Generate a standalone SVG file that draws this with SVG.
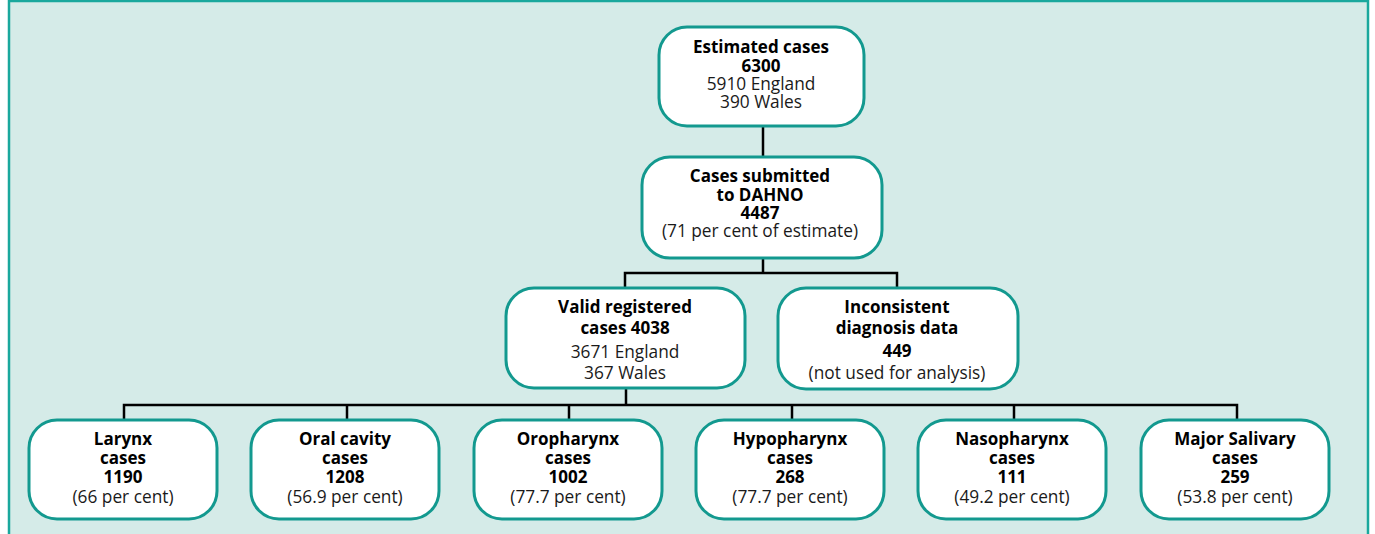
<svg xmlns="http://www.w3.org/2000/svg" width="1375" height="534" viewBox="0 0 1375 534">
<style>
.bg{fill:#d5ebe8;stroke:#1aa89d;stroke-width:2.5}
.box{fill:#ffffff;stroke:#13998f;stroke-width:3}
.c{fill:none;stroke:#000000;stroke-width:2.5}
text{font-family:"Open Sans","Noto Sans","Liberation Sans",sans-serif;font-size:17.3px;fill:#1a1a1a;text-anchor:middle}
.b{font-weight:bold;fill:#000000;font-size:17px}
</style>
<rect class="bg" x="9" y="1" width="1359" height="545"/>
<g id="connectors">
<path class="c" d="M763,126 V157"/>
<path class="c" d="M763,258 V273 M625,288 V273 H897 V288"/>
<path class="c" d="M626,388 V405 M124,420 V405 H1237 V420 M347,405 V420 M569,405 V420 M792,405 V420 M1014,405 V420"/>
</g>
<g id="estimated">
<rect class="box" x="659" y="27" width="205" height="99" rx="28"/>
<text x="761" y="53" class="b">Estimated cases</text>
<text x="761" y="72" class="b">6300</text>
<text x="761" y="90">5910 England</text>
<text x="761" y="108">390 Wales</text>
</g>
<g id="submitted">
<rect class="box" x="642" y="157" width="240" height="101" rx="28"/>
<text x="760" y="182" class="b">Cases submitted</text>
<text x="760" y="201" class="b">to DAHNO</text>
<text x="760" y="219" class="b">4487</text>
<text x="760" y="237">(71 per cent of estimate)</text>
</g>
<g id="valid">
<rect class="box" x="506" y="288" width="239" height="100" rx="28"/>
<text x="625" y="313" class="b">Valid registered</text>
<text x="625" y="334" class="b">cases 4038</text>
<text x="625" y="358">3671 England</text>
<text x="625" y="379">367 Wales</text>
</g>
<g id="inconsistent">
<rect class="box" x="778" y="288" width="240" height="101" rx="28"/>
<text x="897" y="313" class="b">Inconsistent</text>
<text x="897" y="334" class="b">diagnosis data</text>
<text x="897" y="357" class="b">449</text>
<text x="897" y="379">(not used for analysis)</text>
</g>
<g id="larynx">
<rect class="box" x="29" y="420" width="188" height="99" rx="28"/>
<text x="123" y="445" class="b">Larynx</text>
<text x="123" y="464" class="b">cases</text>
<text x="123" y="483" class="b">1190</text>
<text x="123" y="503">(66 per cent)</text>
</g>
<g id="oral">
<rect class="box" x="251" y="420" width="188" height="99" rx="28"/>
<text x="345" y="445" class="b">Oral cavity</text>
<text x="345" y="464" class="b">cases</text>
<text x="345" y="483" class="b">1208</text>
<text x="345" y="503">(56.9 per cent)</text>
</g>
<g id="oropharynx">
<rect class="box" x="474" y="420" width="188" height="99" rx="28"/>
<text x="568" y="445" class="b">Oropharynx</text>
<text x="568" y="464" class="b">cases</text>
<text x="568" y="483" class="b">1002</text>
<text x="568" y="503">(77.7 per cent)</text>
</g>
<g id="hypopharynx">
<rect class="box" x="696" y="420" width="188" height="99" rx="28"/>
<text x="790" y="445" class="b">Hypopharynx</text>
<text x="790" y="464" class="b">cases</text>
<text x="790" y="483" class="b">268</text>
<text x="790" y="503">(77.7 per cent)</text>
</g>
<g id="nasopharynx">
<rect class="box" x="918" y="420" width="188" height="99" rx="28"/>
<text x="1012" y="445" class="b">Nasopharynx</text>
<text x="1012" y="464" class="b">cases</text>
<text x="1012" y="483" class="b">111</text>
<text x="1012" y="503">(49.2 per cent)</text>
</g>
<g id="salivary">
<rect class="box" x="1141" y="420" width="188" height="99" rx="28"/>
<text x="1235" y="445" class="b">Major Salivary</text>
<text x="1235" y="464" class="b">cases</text>
<text x="1235" y="483" class="b">259</text>
<text x="1235" y="503">(53.8 per cent)</text>
</g>
</svg>
